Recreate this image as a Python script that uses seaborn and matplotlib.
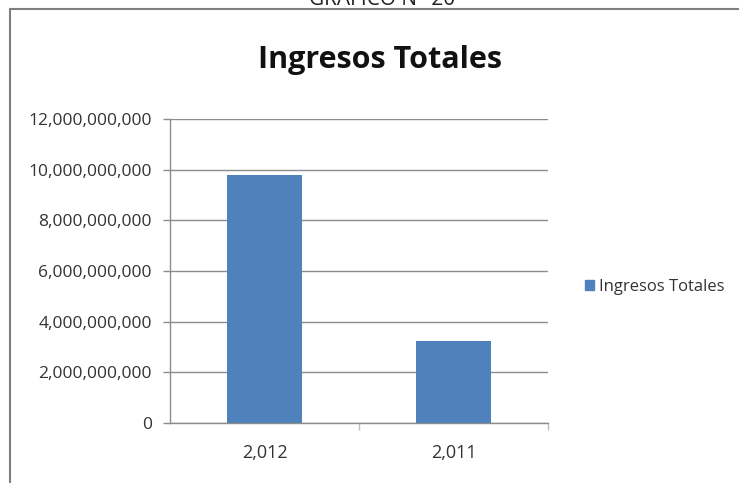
import matplotlib
matplotlib.use("Agg")
import matplotlib.pyplot as plt
import matplotlib.ticker as mticker
from matplotlib.lines import Line2D
import pandas as pd
import seaborn as sns

categories = ["2,012", "2,011"]
values = [9.8e9, 3.25e9]
series_name = "Ingresos Totales"
title = "Ingresos Totales"
header = "GRAFICO N° 20"
yticks = [0, 2e9, 4e9, 6e9, 8e9, 10e9, 12e9]

df = pd.DataFrame({"Año": categories, "Valor": values})

sns.set_theme(style="white")
plt.rcParams["font.family"] = ["Open Sans", "DejaVu Sans"]

W, H = 739, 483
fig = plt.figure(figsize=(W / 100, H / 100), dpi=100)
ax = fig.add_axes([170 / W, 1 - 423 / H, (548 - 170) / W, (423 - 119) / H])

sns.barplot(data=df, x="Año", y="Valor", color="#4F81BD", width=0.4,
            saturation=1, ax=ax, linewidth=0)

ax.set_ylim(0, 12e9)
ax.set_xlim(-0.5, 1.5)
ax.set_yticks(yticks)
ax.yaxis.set_major_formatter(mticker.FuncFormatter(lambda v, p: f"{v:,.0f}"))
ax.grid(axis="y", color="#8C8C8C", linewidth=1)
ax.set_axisbelow(True)
ax.set_xlabel("")
ax.set_ylabel("")

for s in ["top", "right"]:
    ax.spines[s].set_visible(False)
for s in ["left", "bottom"]:
    ax.spines[s].set_color("#8C8C8C")
    ax.spines[s].set_linewidth(1)

ax.tick_params(axis="y", which="major", left=True, length=5, width=1,
               color="#8C8C8C", labelsize=12.5, labelcolor="#333333", pad=8)
ax.tick_params(axis="x", which="major", bottom=False, labelsize=13,
               labelcolor="#333333", pad=9)
ax.set_xticks([0.5, 1.5], minor=True)
ax.tick_params(axis="x", which="minor", bottom=True, length=5, width=1,
               color="#C0C0C0")

leg = fig.legend(handles=[plt.Rectangle((0, 0), 1, 1, color="#4F81BD")],
                 labels=[series_name], loc="center left",
                 bbox_to_anchor=(570 / W, 1 - 287 / H), frameon=False,
                 fontsize=12, handlelength=0.55, handleheight=0.55,
                 handletextpad=0.3)
for t in leg.get_texts():
    t.set_color("#333333")

fig.text(380 / W, 1 - 60 / H, title, ha="center", va="center",
         fontsize=22, fontweight="bold", color="#111111")

fig.text(382 / W, 1 - 5 / H, header, ha="center", va="baseline",
         fontsize=15, color="#222222")

fig.add_artist(Line2D([10 / W, 10 / W], [0, 1 - 9 / H], transform=fig.transFigure,
                      color="#7F7F7F", linewidth=1.5))
fig.add_artist(Line2D([10 / W, 1], [1 - 9 / H, 1 - 9 / H], transform=fig.transFigure,
                      color="#7F7F7F", linewidth=1.5))

fig.savefig("out.png", dpi=100)
